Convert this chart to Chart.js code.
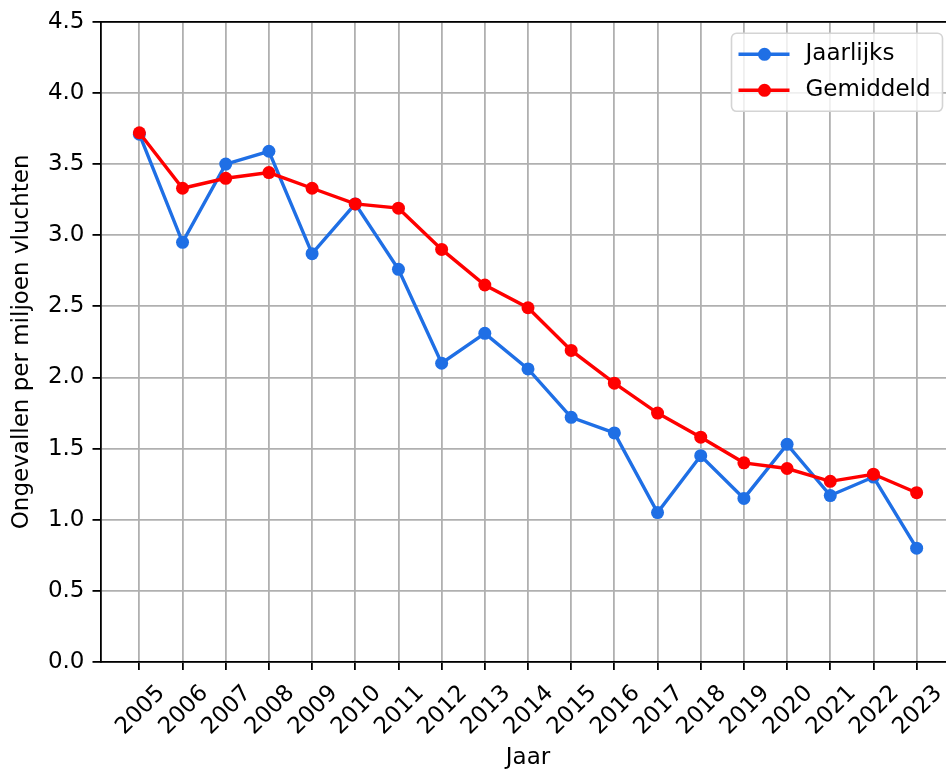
<!DOCTYPE html>
<html><head><meta charset="utf-8">
<script src="https://cdn.jsdelivr.net/npm/chart.js@4/dist/chart.umd.min.js"></script>
<style>
html,body{margin:0;padding:0;overflow:hidden;background:#fff;width:946px;height:772px}
#wrap{position:absolute;left:0;top:0;width:962px;height:772px}
</style>
</head><body><div id="wrap"><canvas id="c" width="962" height="772"></canvas></div>
<script>
const years = [2005,2006,2007,2008,2009,2010,2011,2012,2013,2014,2015,2016,2017,2018,2019,2020,2021,2022,2023];
const yearlyValues = [3.71,2.95,3.50,3.59,2.87,3.22,2.76,2.10,2.31,2.06,1.72,1.61,1.05,1.45,1.15,1.53,1.17,1.30,0.80];
const averageValues = [3.72,3.33,3.40,3.44,3.33,3.22,3.19,2.90,2.65,2.49,2.19,1.96,1.75,1.58,1.40,1.36,1.27,1.32,1.19];
const yTickValues = [0,0.5,1.0,1.5,2.0,2.5,3.0,3.5,4.0,4.5];
const seriesNames = ['Jaarlijks','Gemiddeld'];
const xTitle = 'Jaar';
const yTitle = 'Ongevallen per miljoen vluchten';

const BLUE = '#1f6fe5';
const RED = '#ff0000';
const FONT = 'DejaVu Sans';
const FSIZE = 23;

Chart.defaults.font.family = FONT;
Chart.defaults.font.size = FSIZE;
Chart.defaults.color = '#000';

const topSpine = {
  id: 'topSpine',
  afterDatasetsDraw(chart) {
    const {ctx, chartArea: a} = chart;
    ctx.save();
    ctx.strokeStyle = '#000';
    ctx.lineWidth = 1.8;
    ctx.beginPath();
    ctx.moveTo(a.left, a.top);
    ctx.lineTo(a.right, a.top);
    ctx.moveTo(a.right, a.top);
    ctx.lineTo(a.right, a.bottom);
    ctx.stroke();
    ctx.restore();
  }
};

const boxLegend = {
  id: 'boxLegend',
  afterDraw(chart) {
    const {ctx, chartArea: a} = chart;
    const w = 211, h = 78;
    const x = a.right - 13 - w, y = a.top + 11.5;
    ctx.save();
    ctx.beginPath();
    ctx.roundRect(x, y, w, h, 5);
    ctx.fillStyle = 'rgba(255,255,255,0.8)';
    ctx.fill();
    ctx.strokeStyle = '#d4d4d4';
    ctx.lineWidth = 1.6;
    ctx.stroke();
    chart.data.datasets.forEach((ds, i) => {
      const cy = y + 21 + i * 36;
      ctx.strokeStyle = ds.borderColor;
      ctx.lineWidth = 3.4;
      ctx.beginPath();
      ctx.moveTo(x + 7, cy);
      ctx.lineTo(x + 58, cy);
      ctx.stroke();
      ctx.fillStyle = ds.borderColor;
      ctx.beginPath();
      ctx.arc(x + 33, cy, 6.5, 0, Math.PI * 2);
      ctx.fill();
      ctx.fillStyle = '#000';
      ctx.font = FSIZE + 'px "' + FONT + '"';
      ctx.textBaseline = 'middle';
      ctx.textAlign = 'left';
      ctx.fillText(ds.label, x + 74, cy);
    });
    ctx.restore();
  }
};

const gridOpts = {color: '#b0b0b0', lineWidth: 1.8, tickLength: 8, tickColor: '#000', tickWidth: 1.8};

new Chart(document.getElementById('c').getContext('2d'), {
  type: 'line',
  data: {
    datasets: [
      {label: seriesNames[0], data: years.map((x, i) => ({x, y: yearlyValues[i]})),
       borderColor: BLUE, backgroundColor: BLUE, pointBackgroundColor: BLUE, pointBorderColor: BLUE,
       borderWidth: 3.4, pointRadius: 6.5, pointBorderWidth: 0, tension: 0, order: 1},
      {label: seriesNames[1], data: years.map((x, i) => ({x, y: averageValues[i]})),
       borderColor: RED, backgroundColor: RED, pointBackgroundColor: RED, pointBorderColor: RED,
       borderWidth: 3.4, pointRadius: 6.5, pointBorderWidth: 0, tension: 0, order: 0}
    ]
  },
  options: {
    responsive: false, animation: false, devicePixelRatio: 1,
    layout: {padding: {top: 20, right: 4, left: 0, bottom: 0}},
    plugins: {legend: {display: false}, tooltip: {enabled: false}},
    scales: {
      x: {
        type: 'linear', min: 2004.1, max: 2023.9,
        afterBuildTicks: s => { s.ticks = years.map(v => ({value: v})); },
        afterFit: s => { s.height = 110; },
        ticks: {autoSkip: false, minRotation: 45, maxRotation: 45, labelOffset: 22, padding: 10,
                callback: v => String(v)},
        grid: gridOpts,
        border: {color: '#000', width: 1.8},
        title: {display: true, text: xTitle, padding: {top: 0, bottom: 0}}
      },
      y: {
        min: 0, max: 4.5,
        afterBuildTicks: s => { s.ticks = yTickValues.map(v => ({value: v})); },
        afterFit: s => { s.width = 100.5; },
        ticks: {padding: 8, callback: v => Number(v).toFixed(1)},
        grid: gridOpts,
        border: {color: '#000', width: 1.8},
        title: {display: true, text: yTitle, padding: {top: 8, bottom: 0}}
      }
    }
  },
  plugins: [topSpine, boxLegend]
});
</script>
</body></html>
